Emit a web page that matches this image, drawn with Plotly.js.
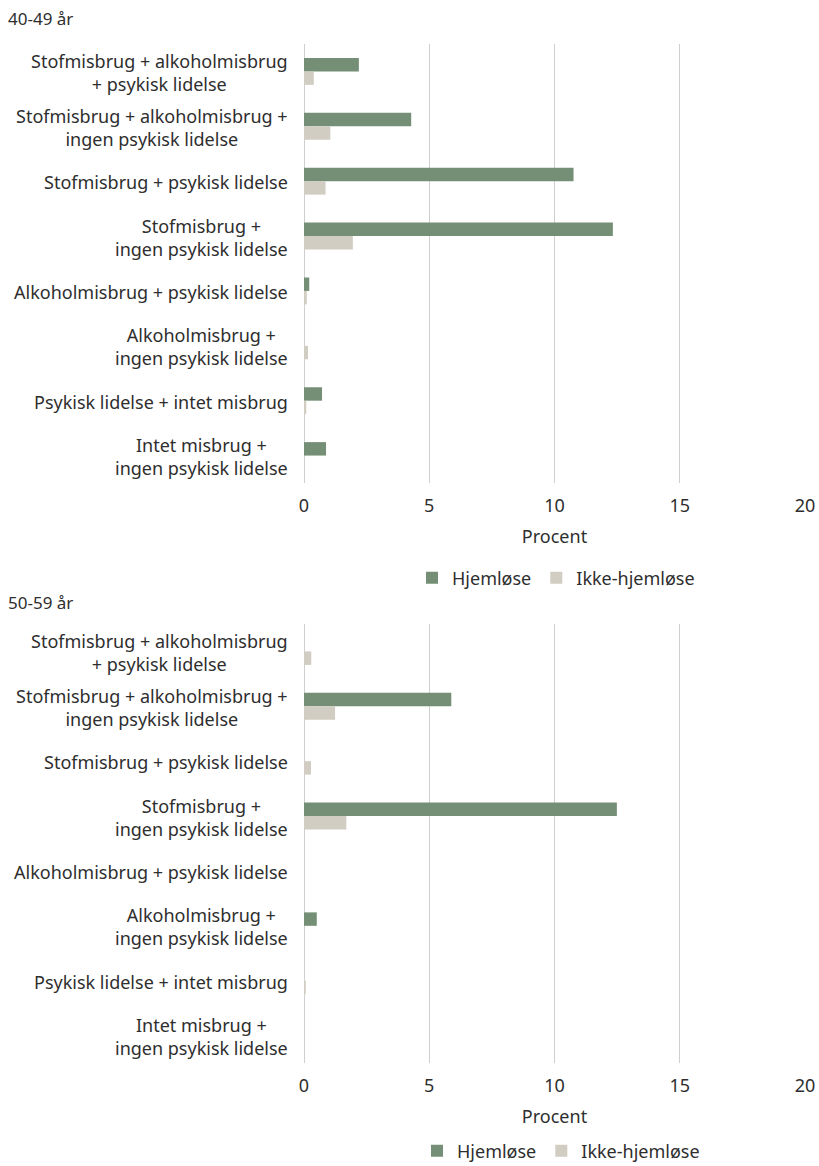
<!DOCTYPE html>
<html>
<head>
<meta charset="utf-8">
<script src="https://cdn.plot.ly/plotly-3.0.1.min.js"></script>
<style>html,body{margin:0;padding:0;background:#fff;}#chart{width:819px;height:1166px;}</style>
</head>
<body>
<div id="chart"></div>
<script>
const categories = [
  "Stofmisbrug + alkoholmisbrug<br>+ psykisk lidelse",
  "Stofmisbrug + alkoholmisbrug +<br>ingen psykisk lidelse",
  "Stofmisbrug + psykisk lidelse",
  "Stofmisbrug +<br>ingen psykisk lidelse",
  "Alkoholmisbrug + psykisk lidelse",
  "Alkoholmisbrug +<br>ingen psykisk lidelse",
  "Psykisk lidelse + intet misbrug",
  "Intet misbrug +<br>ingen psykisk lidelse"
];
const seriesNames = ["Hjemløse", "Ikke-hjemløse"];
const panelTitles = ["40-49 år", "50-59 år"];
const axisTitle = "Procent";
const tickValues = [0, 5, 10, 15, 20];

const hjem4049 = [2.19, 4.28, 10.76, 12.33, 0.21, 0, 0.72, 0.88];
const ikke4049 = [0.39, 1.05, 0.86, 1.95, 0.11, 0.16, 0.09, 0];
const hjem5059 = [0, 5.88, 0, 12.49, 0, 0.51, 0, 0];
const ikke5059 = [0.29, 1.24, 0.28, 1.69, 0, 0, 0.07, 0];

const W = 819, H = 1166;
const green = "#758f76", grey = "#d1cdc3";
const txt = "#2e2e2e";
const fontFam = "'Noto Sans', 'Open Sans', sans-serif";
const FS = 18;
const px = v => v / W;
const py = v => 1 - v / H;

const traces = [
  {type:"bar", orientation:"h", y:categories, x:hjem4049, name:seriesNames[0], marker:{color:green}, xaxis:"x", yaxis:"y", legend:"legend"},
  {type:"bar", orientation:"h", y:categories, x:ikke4049, name:seriesNames[1], marker:{color:grey}, xaxis:"x", yaxis:"y", legend:"legend"},
  {type:"bar", orientation:"h", y:categories, x:hjem5059, name:seriesNames[0], marker:{color:green}, xaxis:"x2", yaxis:"y2", legend:"legend2"},
  {type:"bar", orientation:"h", y:categories, x:ikke5059, name:seriesNames[1], marker:{color:grey}, xaxis:"x2", yaxis:"y2", legend:"legend2"}
];

function xax(anchor){
  return {
    domain:[px(304), px(805)], range:[0,20], anchor:anchor,
    tickvals:tickValues, showgrid:true, gridcolor:"#cfcfcf", gridwidth:1,
    zeroline:true, zerolinecolor:"#cfcfcf", zerolinewidth:1, showline:false,
    ticks:"outside", ticklen:6, tickcolor:"rgba(0,0,0,0)",
    tickfont:{family:fontFam, size:FS, color:txt},
    title:{text:axisTitle, font:{family:fontFam, size:FS, color:txt}, standoff:14},
    fixedrange:true
  };
}
function yax(anchor, d){
  return {
    domain:d, anchor:anchor, autorange:"reversed", type:"category",
    showticklabels:false, showgrid:false, zeroline:false, showline:false, ticks:""
  };
}

const annotations = [];
[["y",0],["y2",1]].forEach(([yr,i])=>{
  categories.forEach(c=>{
    annotations.push({xref:"paper", yref:yr, x:px(290), y:c, xanchor:"right", yanchor:"middle",
      text:c, align:"center", showarrow:false, yshift:-1,
      font:{family:fontFam, size:FS, color:txt}});
  });
  annotations.push({xref:"paper", yref:"paper", x:px(6), y:py(i===0?18:602), xanchor:"left", yanchor:"middle",
    text:panelTitles[i], showarrow:false, font:{family:fontFam, size:17, color:txt}});
});

const legendBase = {orientation:"h", xref:"paper", yref:"paper", xanchor:"center", yanchor:"middle",
  font:{family:fontFam, size:FS, color:txt}, bgcolor:"rgba(0,0,0,0)", itemwidth:30, tracegroupgap:0};

const layout = {
  width:W, height:H, margin:{l:0,r:0,t:0,b:0,autoexpand:false},
  paper_bgcolor:"#fff", plot_bgcolor:"#fff",
  barmode:"group", bargap:0.51, bargroupgap:0,
  xaxis:xax("y"), yaxis:yax("x",[py(483), py(44)]),
  xaxis2:xax("y2"), yaxis2:yax("x2",[py(1063), py(624)]),
  legend:Object.assign({}, legendBase, {x:px(556), y:py(578)}),
  legend2:Object.assign({}, legendBase, {x:px(561), y:py(1151)}),
  annotations:annotations,
  font:{family:fontFam, color:txt}
};

Plotly.newPlot("chart", traces, layout, {displayModeBar:false, staticPlot:true});
</script>
</body>
</html>
